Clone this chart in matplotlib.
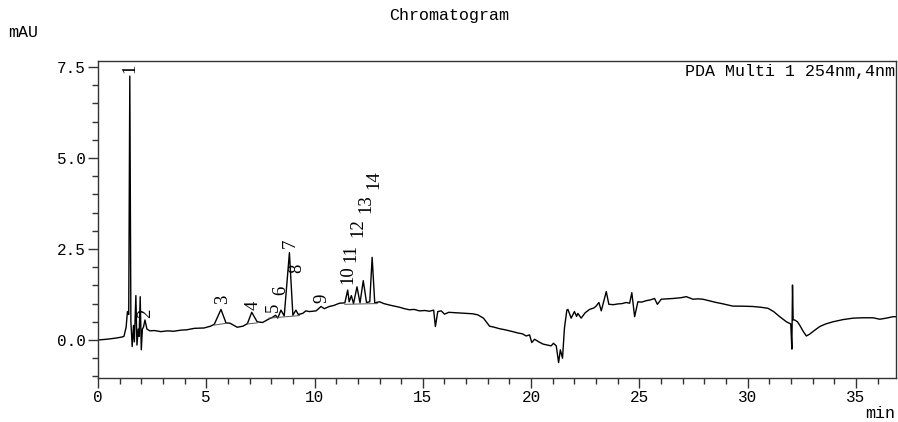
import matplotlib
matplotlib.use("Agg")
import matplotlib.pyplot as plt
from matplotlib.ticker import MultipleLocator

# 色谱曲线 (时间 min, 信号 mAU)
trace_t = [
    0.0, 0.4, 0.8, 1.1, 1.2, 1.3, 1.36, 1.42, 1.47, 1.52, 1.58, 1.64, 1.68, 1.75,
    1.8, 1.86, 1.9, 1.95, 2.0, 2.05, 2.1, 2.17, 2.26, 2.4, 2.6, 2.9, 3.2, 3.5,
    3.83, 4.1, 4.45, 4.9, 5.2, 5.37, 5.68, 5.91, 6.1, 6.43, 6.7, 6.9, 7.1, 7.35,
    7.6, 7.9, 8.05, 8.2, 8.3, 8.45, 8.6, 8.84, 9.0, 9.14, 9.25, 9.45, 9.6, 9.76,
    10.07, 10.3, 10.45, 10.68, 10.9, 11.15, 11.4, 11.53, 11.6, 11.7, 11.8, 11.96,
    12.1, 12.25, 12.4, 12.55, 12.66, 12.78, 13.0, 13.2, 13.46, 13.7, 13.92, 14.15,
    14.38, 14.6, 14.84, 15.1, 15.3, 15.5, 15.58, 15.69, 15.85, 16.0, 16.2, 16.46,
    16.7, 17.0, 17.3, 17.54, 17.8, 18.08, 18.3, 18.54, 18.8, 19.15, 19.4, 19.6,
    19.77, 19.93, 20.03, 20.16, 20.35, 20.54, 20.75, 20.93, 21.03, 21.16, 21.27,
    21.35, 21.45, 21.54, 21.65, 21.7, 21.85, 22.0, 22.1, 22.16, 22.31, 22.5, 22.7,
    22.9, 23.0, 23.13, 23.24, 23.47, 23.59, 23.8, 24.0, 24.2, 24.39, 24.55, 24.65,
    24.78, 24.93, 25.1, 25.32, 25.5, 25.7, 25.83, 26.01, 26.3, 26.55, 26.9, 27.17,
    27.47, 27.7, 27.93, 28.2, 28.55, 28.8, 29.09, 29.32, 29.7, 30.24, 30.6, 30.94,
    31.2, 31.48, 31.79, 31.99, 32.04, 32.07, 32.1, 32.17, 32.3, 32.4, 32.55, 32.71,
    32.86, 33.1, 33.33, 33.6, 33.94, 34.4, 34.87, 35.3, 35.79, 36.1, 36.4, 36.71,
    36.85,
]
trace_v = [
    0.00, 0.02, 0.05, 0.08, 0.10, 0.35, 0.78, 0.70, 7.25, 0.50, -0.18, 0.40, -0.05, 1.22,
    -0.14, 0.30, 0.10, 1.19, -0.27, 0.30, 0.35, 0.55, 0.30, 0.25, 0.26, 0.23, 0.25, 0.24,
    0.27, 0.28, 0.32, 0.33, 0.38, 0.43, 0.84, 0.47, 0.46, 0.35, 0.38, 0.45, 0.76, 0.50,
    0.48, 0.58, 0.62, 0.68, 0.60, 0.82, 0.66, 2.40, 0.68, 0.82, 0.70, 0.73, 0.80, 0.78,
    0.80, 0.92, 0.86, 0.92, 0.95, 1.01, 1.02, 1.37, 1.05, 1.22, 1.00, 1.46,
    1.02, 1.63, 1.03, 1.05, 2.27, 1.02, 1.05, 1.00, 0.96, 0.93, 0.90, 0.86,
    0.83, 0.84, 0.80, 0.81, 0.79, 0.82, 0.37, 0.78, 0.80, 0.71, 0.76, 0.75,
    0.74, 0.73, 0.72, 0.69, 0.60, 0.38, 0.35, 0.31, 0.28, 0.23, 0.19, 0.17,
    0.11, 0.14, -0.07, 0.02, -0.05, -0.11, -0.14, -0.16, -0.09, -0.16, -0.62,
    -0.27, -0.50, 0.33, 0.82, 0.84, 0.60, 0.78, 0.65, 0.73, 0.60, 0.75, 0.84,
    0.88, 0.93, 1.03, 0.80, 1.33, 0.98, 0.97, 0.99, 1.00, 1.03, 1.01, 1.30,
    0.64, 1.05, 1.04, 1.08, 1.10, 1.14, 0.98, 1.12, 1.13, 1.14, 1.16, 1.19,
    1.12, 1.13, 1.12, 1.08, 1.03, 1.00, 0.96, 0.93, 0.93, 0.92, 0.90, 0.87,
    0.78, 0.64, 0.50, 0.44, -0.25, 1.51, 0.55, 0.55, 0.50, 0.41, 0.25, 0.11,
    0.16, 0.27, 0.37, 0.44, 0.50, 0.56, 0.60, 0.61, 0.61, 0.57, 0.60, 0.64,
    0.64,
]

# 峰编号、保留时间和标注高度
peak_names = ["1", "2", "3", "4", "5", "6", "7", "8", "9", "10", "11", "12", "13", "14"]
peak_t = [1.49, 2.18, 5.75, 7.15, 8.12, 8.42, 8.86, 9.2, 10.36, 11.56, 11.7, 11.98, 12.37, 12.76]
label_v = [7.45, 0.74, 1.13, 0.96, 0.91, 1.37, 2.66, 1.98, 1.15, 1.79, 2.39, 3.08, 3.74, 4.4]

# 积分基线
base_t = [(5.37, 5.95), (6.9, 7.35), (7.9, 9.3), (11.4, 12.9)]
base_v = [(0.41, 0.46), (0.44, 0.47), (0.60, 0.67), (0.98, 1.0)]

mono = "Liberation Mono"

fig = plt.figure(figsize=(8.98, 4.22), dpi=100)
ax = fig.add_axes([0.1091, 0.1043, 0.8887, 0.7512])

ax.plot(trace_t, trace_v, color="black", lw=1.0)
for (t0, t1), (v0, v1) in zip(base_t, base_v):
    ax.plot([t0, t1], [v0, v1], color="#555555", lw=0.7)

for name, t, v in zip(peak_names, peak_t, label_v):
    ax.text(t, v, name, rotation=90, ha="center", va="center",
            fontsize=13.5, family="Liberation Serif")

ax.set_xlim(0, 36.85)
ax.set_ylim(-1.044, 7.665)
ax.xaxis.set_major_locator(MultipleLocator(5))
ax.xaxis.set_minor_locator(MultipleLocator(1))
ax.yaxis.set_major_locator(MultipleLocator(2.5))
ax.yaxis.set_minor_locator(MultipleLocator(0.5))
ax.yaxis.set_major_formatter(matplotlib.ticker.FormatStrFormatter("%.1f"))
ax.tick_params(which="major", direction="out", length=7, width=1, pad=2,
               labelsize=11.5, color="#333333")
ax.tick_params(which="minor", direction="out", length=4, width=1, color="#333333")
for lab in ax.get_xticklabels() + ax.get_yticklabels():
    lab.set_family(mono)
for sp in ax.spines.values():
    sp.set_color("#333333")
    sp.set_linewidth(1)

ax.text(0.999, 0.992, "PDA Multi 1 254nm,4nm", transform=ax.transAxes,
        ha="right", va="top", fontsize=12, family=mono)
fig.text(0.5, 0.963, "Chromatogram", ha="center", va="center", fontsize=12, family=mono)
fig.text(0.009, 0.922, "mAU", ha="left", va="center", fontsize=12, family=mono)
fig.text(0.997, 0.021, "min", ha="right", va="center", fontsize=12, family=mono)

fig.savefig("out.png", dpi=100)
